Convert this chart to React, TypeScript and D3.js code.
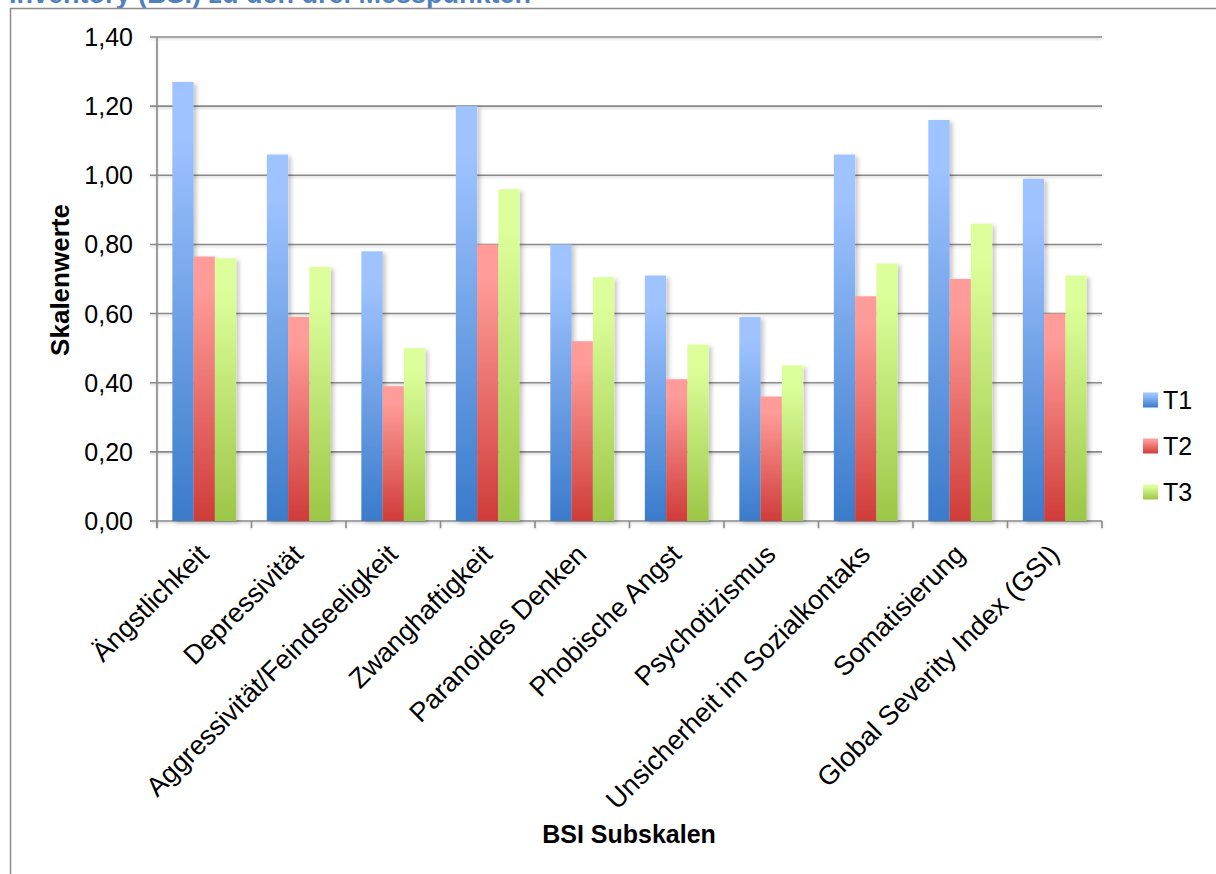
import React from "react";
import * as d3 from "d3";

// BSI subscale means at three measurement points
const categories = [
  "Ängstlichkeit",
  "Depressivität",
  "Aggressivität/Feindseeligkeit",
  "Zwanghaftigkeit",
  "Paranoides Denken",
  "Phobische Angst",
  "Psychotizismus",
  "Unsicherheit im Sozialkontaks",
  "Somatisierung",
  "Global Severity Index (GSI)",
];
const seriesNames = ["T1", "T2", "T3"];
const t1 = [1.27, 1.06, 0.78, 1.2, 0.8, 0.71, 0.59, 1.06, 1.16, 0.99];
const t2 = [0.765, 0.59, 0.39, 0.8, 0.52, 0.41, 0.36, 0.65, 0.7, 0.6];
const t3 = [0.76, 0.735, 0.5, 0.96, 0.705, 0.51, 0.45, 0.745, 0.86, 0.71];
const yTicks = [0, 0.2, 0.4, 0.6, 0.8, 1.0, 1.2, 1.4];

const seriesValues = [t1, t2, t3];
// light (top) / dark (bottom) gradient colours per series
const seriesColors = [
  ["#9ec3ff", "#3a7bcb"],
  ["#ff9c99", "#cf3c39"],
  ["#ddff9b", "#9cc646"],
];

const W = 1216;
const H = 874;
const FONT = "'Liberation Sans', Arial, sans-serif";

export default function App() {
  const left = 157;
  const right = 1102;
  const top = 37;
  const bottom = 521;

  const x = d3.scaleBand<string>().domain(categories).range([left, right]).paddingInner(0).paddingOuter(0);
  const y = d3.scaleLinear().domain([0, 1.4]).range([bottom, top]);
  const band = x.bandwidth();
  const barW = band * 0.225;
  const groupOffset = (band - barW * 3) / 2;
  const fmt = (v: number) => d3.format(".2f")(v).replace(".", ",");

  return (
    <svg
      width={W}
      height={H}
      style={{ position: "absolute", left: 0, top: 0, background: "#fff" }}
      fontFamily={FONT}
    >
      <defs>
        {seriesColors.map((c, i) => (
          <linearGradient key={i} id={`grad${i}`} x1="0" y1="0" x2="0" y2="1">
            <stop offset="0" stopColor={c[0]} />
            <stop offset="0.12" stopColor={c[0]} />
            <stop offset="1" stopColor={c[1]} />
          </linearGradient>
        ))}
        <filter id="barShadow" x="-30%" y="-10%" width="170%" height="130%">
          <feDropShadow dx="3" dy="2" stdDeviation="2" floodColor="#000" floodOpacity="0.22" />
        </filter>
        <filter id="lineShadow" x="-5%" y="-200%" width="110%" height="500%">
          <feDropShadow dx="0" dy="1.5" stdDeviation="0.8" floodColor="#000" floodOpacity="0.18" />
        </filter>
      </defs>

      {/* heading above the chart frame, cut off at the top edge */}
      <text x={9} y={3} fontSize={27} fontWeight="bold" fill="#4f81bd" fontFamily={FONT}>
        Inventory (BSI) zu den drei Messpunkten
      </text>

      {/* chart frame */}
      <path d={`M10.5,${H} V8.5 H${W}`} fill="none" stroke="#8c8c8c" strokeWidth={1.5} />

      {/* gridlines, value axis and category ticks */}
      <g filter="url(#lineShadow)">
        {yTicks.map((t) => (
          <line
            key={t}
            x1={left - 7}
            x2={right}
            y1={y(t)}
            y2={y(t)}
            stroke="#8a8a8a"
            strokeWidth={1.6}
          />
        ))}
        <line x1={left} x2={left} y1={top} y2={bottom + 7} stroke="#8a8a8a" strokeWidth={1.6} />
        {categories.map((c) => (
          <line
            key={c}
            x1={x(c) as number}
            x2={x(c) as number}
            y1={bottom}
            y2={bottom + 7}
            stroke="#8a8a8a"
            strokeWidth={1.6}
          />
        ))}
        <line x1={right} x2={right} y1={bottom} y2={bottom + 7} stroke="#8a8a8a" strokeWidth={1.6} />
      </g>

      {/* bars */}
      {categories.map((c, ci) => (
        <g key={c}>
          {seriesValues.map((vals, si) => (
            <rect
              key={si}
              x={(x(c) as number) + groupOffset + si * barW}
              y={y(vals[ci])}
              width={barW}
              height={bottom - y(vals[ci])}
              fill={`url(#grad${si})`}
              filter="url(#barShadow)"
            />
          ))}
        </g>
      ))}

      {/* y tick labels */}
      {yTicks.map((t) => (
        <text key={t} x={133} y={y(t)} dy="0.36em" textAnchor="end" fontSize={25} fill="#000">
          {fmt(t)}
        </text>
      ))}

      {/* category labels */}
      {categories.map((c) => {
        const cx = (x(c) as number) + band / 2;
        return (
          <text
            key={c}
            transform={`translate(${cx + 6},${556}) rotate(-45)`}
            textAnchor="end"
            fontSize={27}
            fill="#000"
          >
            {c}
          </text>
        );
      })}

      {/* axis titles */}
      <text
        transform={`translate(69,280) rotate(-90)`}
        textAnchor="middle"
        fontSize={26}
        fontWeight="bold"
        fill="#000"
      >
        Skalenwerte
      </text>
      <text x={629} y={843} textAnchor="middle" fontSize={25} fontWeight="bold" fill="#000">
        BSI Subskalen
      </text>

      {/* legend */}
      {seriesNames.map((s, i) => {
        const cy = 400 + i * 46;
        return (
          <g key={s}>
            <rect x={1143} y={cy - 7.5} width={15} height={15} fill={`url(#grad${i})`} />
            <text x={1163} y={cy} dy="0.36em" fontSize={25} fill="#000">
              {s}
            </text>
          </g>
        );
      })}
    </svg>
  );
}
